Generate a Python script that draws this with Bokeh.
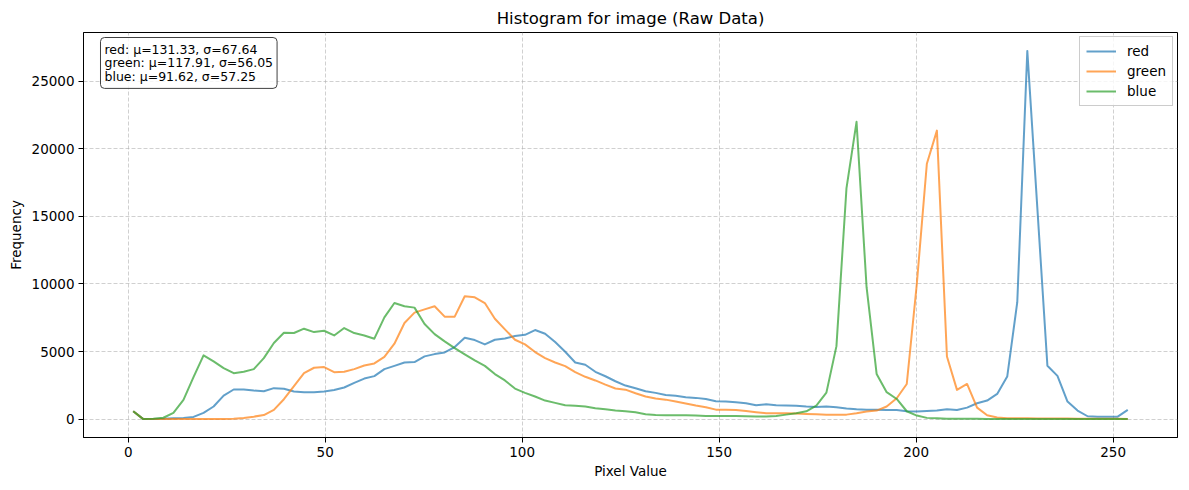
from bokeh.plotting import figure
from bokeh.models import Range1d, FixedTicker, Label, Legend, LegendItem
from bokeh.embed import file_html
from bokeh.resources import INLINE

# ---- data ----
n_bins = 100
pixel_max = 255
bin_width = pixel_max / n_bins
bin_centers = [bin_width * (i + 0.5) for i in range(n_bins)]

red_counts = [
    580, 0, 0, 30, 60, 90, 160, 460, 930, 1740,
    2190, 2190, 2110, 2060, 2290, 2240, 2040, 1990, 1990, 2040,
    2160, 2340, 2680, 3000, 3180, 3700, 3940, 4190, 4220, 4640,
    4810, 4930, 5330, 6020, 5850, 5530, 5870, 5970, 6150, 6240,
    6590, 6320, 5700, 4980, 4190, 4020, 3500, 3170, 2800, 2480,
    2280, 2060, 1940, 1790, 1720, 1620, 1570, 1490, 1320, 1300,
    1250, 1170, 1020, 1100, 1020, 1000, 980, 930, 900, 930,
    880, 780, 730, 700, 700, 680, 680, 580, 560, 600,
    630, 730, 680, 850, 1170, 1370, 1860, 3150, 8650, 27250,
    15600, 3950, 3200, 1300, 630, 210, 180, 180, 180, 680,
]
green_counts = [
    580, 0, 0, 0, 0, 0, 0, 0, 0, 0,
    20, 80, 180, 300, 680, 1470, 2440, 3400, 3800, 3850,
    3470, 3500, 3700, 3970, 4120, 4610, 5580, 7110, 7880, 8120,
    8350, 7580, 7580, 9090, 9010, 8590, 7430, 6640, 5870, 5530,
    4960, 4510, 4190, 3920, 3470, 3130, 2860, 2550, 2260, 2180,
    1910, 1670, 1520, 1440, 1300, 1150, 1000, 880, 700, 700,
    680, 600, 510, 430, 430, 430, 410, 380, 360, 330,
    330, 330, 430, 560, 630, 930, 1540, 2600, 10000, 18900,
    21350, 4630, 2160, 2600, 850, 280, 120, 70, 60, 60,
    50, 50, 40, 40, 30, 30, 20, 20, 20, 10,
]
blue_counts = [
    580, 0, 20, 100, 460, 1420, 3100, 4720, 4270, 3770,
    3400, 3500, 3700, 4510, 5630, 6390, 6370, 6690, 6440, 6540,
    6190, 6740, 6370, 6190, 5950, 7530, 8590, 8350, 8250, 7040,
    6290, 5750, 5250, 4790, 4340, 3940, 3330, 2860, 2260, 1940,
    1670, 1370, 1200, 1030, 980, 930, 800, 720, 630, 580,
    510, 360, 310, 280, 280, 280, 260, 230, 230, 230,
    230, 210, 190, 190, 230, 330, 430, 580, 1000, 1960,
    5400, 17100, 22000, 9760, 3340, 1990, 1490, 580, 260, 90,
    60, 30, 20, 20, 20, 10, 10, 10, 10, 10,
    10, 10, 10, 10, 10, 10, 10, 10, 10, 10,
]

series_names = ["red", "green", "blue"]
series_values = [red_counts, green_counts, blue_counts]
series_colors = ["#1f77b4", "#ff7f0e", "#2ca02c"]
stats_text = "red: \u03bc=131.33, \u03c3=67.64\ngreen: \u03bc=117.91, \u03c3=56.05\nblue: \u03bc=91.62, \u03c3=57.25"

x_ticks = [0, 50, 100, 150, 200, 250]
y_ticks = [0, 5000, 10000, 15000, 20000, 25000]

FONT = "DejaVu Sans"

# ranges with matplotlib-like 5% margins
xmin, xmax = min(bin_centers), max(bin_centers)
ymax_all = max(max(v) for v in series_values)
xm = (xmax - xmin) * 0.05
ym = ymax_all * 0.05

p = figure(width=1189, height=490, output_backend="svg", toolbar_location=None,
           x_range=Range1d(xmin - xm, xmax + xm),
           y_range=Range1d(-ym, ymax_all + ym),
           min_border_left=83, min_border_right=12, min_border_top=32, min_border_bottom=53,
           title="Histogram for image (Raw Data)")

p.title.text_font = FONT
p.title.text_font_size = "16.5px"
p.title.text_font_style = "normal"
p.title.align = "center"
p.title.text_color = "black"

p.background_fill_color = "white"
p.border_fill_color = "white"
p.outline_line_color = "black"
p.outline_line_width = 1
p.outline_line_alpha = 1

for ax in (p.xaxis[0], p.yaxis[0]):
    ax.major_label_text_font = FONT
    ax.major_label_text_font_size = "13.5px"
    ax.major_label_text_color = "black"
    ax.axis_label_text_font = FONT
    ax.axis_label_text_font_size = "13.5px"
    ax.axis_label_text_font_style = "normal"
    ax.axis_label_text_color = "black"
    ax.axis_line_color = "black"
    ax.major_tick_line_color = "black"
    ax.major_tick_out = 5
    ax.major_tick_in = 0
    ax.minor_tick_line_color = None
    ax.major_label_standoff = 4

p.xaxis.ticker = FixedTicker(ticks=x_ticks)
p.yaxis.ticker = FixedTicker(ticks=y_ticks)
p.xaxis.axis_label = "Pixel Value"
p.yaxis.axis_label = "Frequency"
p.xaxis.axis_label_standoff = 3
p.yaxis.axis_label_standoff = 5

p.grid.grid_line_color = "#b0b0b0"
p.grid.grid_line_alpha = 0.6
p.grid.grid_line_dash = "4 2"
p.grid.grid_line_width = 1

items = []
for name, vals, col in zip(series_names, series_values, series_colors):
    r = p.line(bin_centers, vals, line_color=col, line_width=2, line_alpha=0.7, line_join="round")
    items.append(LegendItem(label=name, renderers=[r]))

legend = Legend(items=items, location="top_right")
legend.label_text_font = FONT
legend.label_text_font_size = "13.5px"
legend.label_text_color = "black"
legend.glyph_width = 30
legend.glyph_height = 16
legend.label_height = 16
legend.label_standoff = 11
legend.spacing = 4
legend.padding = 6
legend.margin = 4
legend.border_line_color = "#cccccc"
legend.border_line_alpha = 1
legend.background_fill_color = "white"
legend.background_fill_alpha = 0.8
p.add_layout(legend)

label = Label(x=xmin - xm + (100 - 83) / 3.94, y=ymax_all + ym - 5 / 0.01351,
              text=stats_text, text_font=FONT, text_font_size="12.5px",
              text_align="left", text_baseline="top", text_color="black",
              text_line_height=0.93,
              background_fill_color="white", background_fill_alpha=0.8,
              border_line_color="#404040", border_line_width=1,
              padding=4, border_radius=4)
p.add_layout(label)

open("out.html", "w").write(file_html(p, INLINE))
